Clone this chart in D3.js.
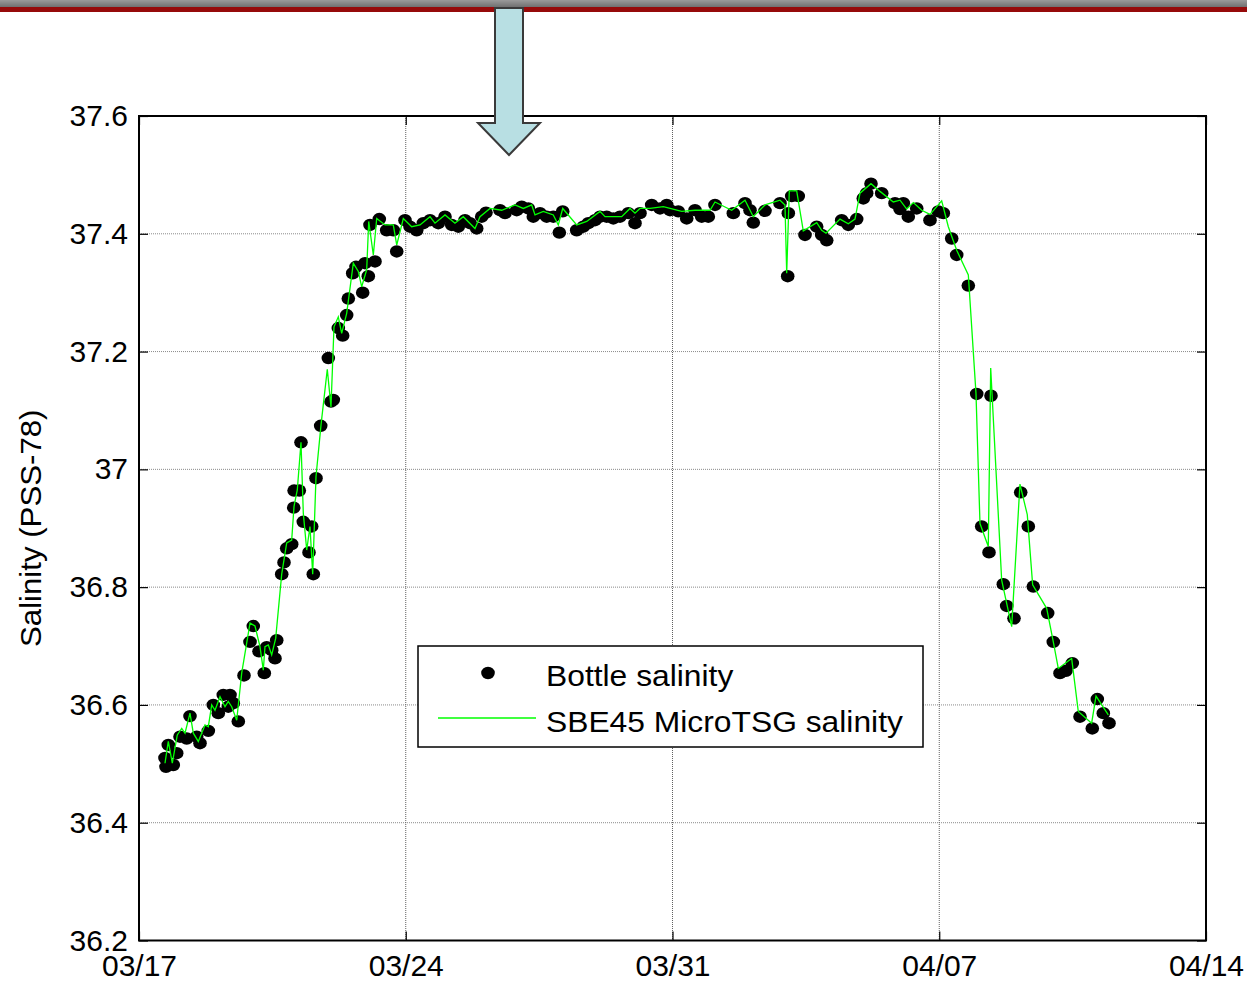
<!DOCTYPE html>
<html>
<head>
<meta charset="utf-8">
<script src="https://cdn.jsdelivr.net/npm/d3@7"></script>
<style>
  html, body { margin: 0; padding: 0; background: #fff; }
  svg { display: block; }
  text { font-family: Arial, "Liberation Sans", sans-serif; fill: #000; }
</style>
</head>
<body>
<svg id="chart" width="1247" height="982"></svg>
<script>
// ---------------- DATA ----------------
// Days since 2013-03-17 00:00 UTC for each bottle sample
const bottleDay = [
  0.682,0.709,0.769,0.900,0.989,1.076,1.252,1.338,1.514,1.601,1.819,1.950,2.081,2.212,2.343,2.388,2.475,2.606,2.755,2.913,
  2.999,3.149,3.288,3.351,3.482,3.569,3.614,3.745,3.805,3.876,4.007,4.060,4.070,4.207,4.251,4.312,4.461,4.532,4.574,4.645,
  4.768,4.968,5.038,5.099,5.230,5.345,5.450,5.493,5.608,5.695,5.870,5.931,6.017,6.062,6.193,6.306,6.500,6.673,6.763,6.980,
  7.112,7.287,7.461,7.636,7.854,8.030,8.206,8.379,8.555,8.686,8.862,8.993,9.106,9.473,9.605,9.912,10.043,10.216,10.347,10.523,
  10.699,10.872,11.030,11.119,11.486,11.659,11.791,11.966,12.097,12.273,12.447,12.622,12.840,13.016,13.147,13.454,13.672,13.848,13.935,14.152,
  14.373,14.591,14.766,14.940,15.115,15.596,15.903,16.034,16.120,16.427,16.821,17.023,17.039,17.128,17.301,17.477,17.784,17.915,18.047,18.440,
  18.613,18.834,19.007,19.096,19.209,19.490,19.839,19.970,20.057,20.188,20.409,20.757,20.976,21.107,21.327,21.458,21.763,21.983,22.114,22.306,
  22.358,22.681,22.770,22.962,23.138,23.337,23.468,23.846,23.993,24.169,24.326,24.492,24.694,25.016,25.148,25.305,25.455
];
// Bottle salinity (PSS-78)
const bottleSal = [
  36.510,36.495,36.532,36.498,36.518,36.546,36.543,36.581,36.546,36.535,36.556,36.600,36.586,36.617,36.597,36.617,36.603,36.572,36.650,36.707,
  36.734,36.691,36.654,36.698,36.693,36.679,36.710,36.822,36.842,36.866,36.873,36.935,36.964,36.964,37.046,36.911,36.859,36.903,36.822,36.985,
  37.074,37.189,37.115,37.118,37.240,37.227,37.262,37.290,37.333,37.344,37.300,37.350,37.328,37.415,37.353,37.425,37.406,37.406,37.370,37.423,
  37.412,37.406,37.418,37.423,37.418,37.429,37.415,37.412,37.423,37.418,37.409,37.429,37.436,37.440,37.435,37.440,37.446,37.443,37.429,37.435,
  37.429,37.429,37.402,37.438,37.406,37.412,37.418,37.423,37.429,37.429,37.426,37.429,37.435,37.418,37.435,37.449,37.443,37.449,37.440,37.438,
  37.426,37.440,37.429,37.429,37.449,37.435,37.452,37.440,37.419,37.439,37.452,37.328,37.435,37.464,37.464,37.398,37.412,37.398,37.389,37.423,
  37.415,37.425,37.460,37.469,37.485,37.469,37.452,37.442,37.452,37.429,37.443,37.423,37.438,37.435,37.392,37.364,37.312,37.128,36.903,36.859,
  37.125,36.805,36.768,36.747,36.961,36.903,36.801,36.756,36.707,36.654,36.658,36.671,36.580,36.560,36.610,36.586,36.569
];
// Days since 2013-03-17 for the SBE45 MicroTSG trace vertices
const tsgDay = [
  0.682,0.769,0.874,1.005,1.121,1.207,1.338,1.425,1.556,1.732,1.819,1.908,1.994,2.126,2.257,2.343,2.433,2.564,2.695,2.913,
  3.044,3.175,3.262,3.306,3.393,3.482,3.587,3.745,3.876,4.007,4.068,4.154,4.251,4.312,4.401,4.487,4.558,4.645,4.776,4.941,
  5.038,5.117,5.230,5.319,5.450,5.624,5.755,5.844,5.975,6.028,6.149,6.238,6.456,6.673,6.763,6.936,7.156,7.374,7.636,7.767,
  8.030,8.292,8.510,8.817,8.948,9.211,9.518,9.867,10.085,10.305,10.392,10.610,10.872,11.003,11.119,11.486,11.749,12.097,12.229,12.667,
  12.885,13.016,13.147,13.410,13.759,14.242,14.591,14.985,15.115,15.553,15.903,16.120,16.427,16.821,16.952,16.997,17.065,17.259,17.432,17.784,
  17.915,18.028,18.395,18.613,18.789,18.920,19.209,19.445,19.794,19.970,20.146,20.320,20.540,20.757,21.064,21.238,21.458,21.763,21.964,22.069,
  22.287,22.350,22.638,22.901,23.118,23.310,23.451,23.819,23.993,24.124,24.475,24.648,24.999,25.114,25.436
];
// SBE45 MicroTSG salinity (PSS-78)
const tsgSal = [
  36.501,36.538,36.501,36.549,36.560,36.552,36.586,36.552,36.538,36.566,36.563,36.600,36.591,36.614,36.597,36.606,36.597,36.574,36.654,36.739,
  36.734,36.699,36.659,36.699,36.702,36.685,36.713,36.822,36.875,36.880,36.937,36.965,37.046,36.925,36.863,36.903,36.822,36.988,37.075,37.170,
  37.106,37.242,37.259,37.231,37.265,37.350,37.336,37.310,37.339,37.421,37.364,37.426,37.415,37.415,37.381,37.426,37.412,37.415,37.429,37.418,
  37.432,37.418,37.429,37.409,37.429,37.443,37.440,37.449,37.443,37.449,37.432,37.438,37.432,37.415,37.443,37.415,37.421,37.438,37.429,37.429,
  37.443,37.435,37.443,37.443,37.446,37.438,37.440,37.440,37.454,37.440,37.457,37.429,37.449,37.457,37.449,37.333,37.473,37.473,37.405,37.419,
  37.406,37.401,37.425,37.417,37.425,37.469,37.485,37.472,37.454,37.457,37.442,37.453,37.440,37.433,37.456,37.412,37.372,37.330,37.129,36.908,
  36.869,37.172,36.812,36.733,36.975,36.923,36.804,36.764,36.707,36.662,36.679,36.589,36.569,36.615,36.583
];
const xTickLabels = ["03/17", "03/24", "03/31", "04/07", "04/14"];
const yTicks = [36.2, 36.4, 36.6, 36.8, 37.0, 37.2, 37.4, 37.6];
const yLabel = "Salinity (PSS-78)";
const legendLabels = ["Bottle salinity", "SBE45 MicroTSG salinity"];
const YEAR = 2013;

// ---------------- HELPERS ----------------
const t0 = Date.UTC(YEAR, 2, 17);
const dayToDate = d => new Date(t0 + d * 864e5);
const parseTick = s => { const [m, d] = s.split("/").map(Number); return new Date(Date.UTC(YEAR, m - 1, d)); };
const xTickDates = xTickLabels.map(parseTick);

const svg = d3.select("#chart");
const W = 1247, H = 982;
const L = 139, R = 1206, T = 116, B = 940.5;

const x = d3.scaleUtc().domain([xTickDates[0], xTickDates[xTickDates.length - 1]]).range([L, R]);
const y = d3.scaleLinear().domain([36.2, 37.6]).range([B, T]);

svg.append("rect").attr("width", W).attr("height", H).attr("fill", "#fff");

// Header bar
const defs = svg.append("defs");
const g1 = defs.append("linearGradient").attr("id", "hdr").attr("x1", 0).attr("x2", 0).attr("y1", 0).attr("y2", 1);
g1.append("stop").attr("offset", "0%").attr("stop-color", "#9a9a9a");
g1.append("stop").attr("offset", "100%").attr("stop-color", "#707070");
svg.append("rect").attr("x", 0).attr("y", 0).attr("width", W).attr("height", 7).attr("fill", "url(#hdr)");
svg.append("rect").attr("x", 0).attr("y", 7).attr("width", W).attr("height", 5).attr("fill", "#960a0a");

// Grid lines
const grid = svg.append("g");
grid.selectAll("line.h").data(yTicks.slice(1, -1)).enter().append("line")
  .attr("x1", L).attr("x2", R).attr("y1", d => y(d)).attr("y2", d => y(d))
  .attr("stroke", "#8a8a8a").attr("stroke-width", 1).attr("stroke-dasharray", "1,1");
grid.selectAll("line.v").data(xTickDates.slice(1, -1)).enter().append("line")
  .attr("x1", d => x(d)).attr("x2", d => x(d)).attr("y1", T).attr("y2", B)
  .attr("stroke", "#606060").attr("stroke-width", 1).attr("stroke-dasharray", "1,1");

// Axes (MATLAB box style, ticks inside on all sides)
const fmtY = d => String(+d.toFixed(1));
const fmtX = d3.utcFormat("%m/%d");
const tickLen = 9;
const axL = d3.axisLeft(y).tickValues(yTicks).tickSize(-tickLen).tickPadding(11).tickFormat(fmtY);
const axR = d3.axisRight(y).tickValues(yTicks).tickSize(-tickLen).tickFormat("");
const axB = d3.axisBottom(x).tickValues(xTickDates).tickSize(-tickLen).tickPadding(10).tickFormat(fmtX);
const axT = d3.axisTop(x).tickValues(xTickDates).tickSize(-tickLen).tickFormat("");

function styleAxis(g) {
  g.select(".domain").remove();
  g.selectAll(".tick line").attr("stroke", "#000").attr("stroke-width", 1.2);
  g.selectAll(".tick text").style("font-size", "30px").attr("fill", "#000");
}
svg.append("g").attr("transform", `translate(${L},0)`).call(axL).call(styleAxis);
svg.append("g").attr("transform", `translate(${R},0)`).call(axR).call(styleAxis);
const gB = svg.append("g").attr("transform", `translate(0,${B})`).call(axB).call(styleAxis);
gB.selectAll(".tick text").attr("dy", null).attr("y", 35.5);
svg.append("g").attr("transform", `translate(0,${T})`).call(axT).call(styleAxis);

svg.append("rect").attr("x", L).attr("y", T).attr("width", R - L).attr("height", B - T)
  .attr("fill", "none").attr("stroke", "#000").attr("stroke-width", 2);

// Y label
svg.append("text").attr("transform", `translate(41,${(T + B) / 2}) rotate(-90) scale(1.04,1)`)
  .attr("text-anchor", "middle").style("font-size", "30px").text(yLabel);

// Data marks
const bottle = bottleDay.map((d, i) => ({ t: dayToDate(d), s: bottleSal[i] }));
const tsg = tsgDay.map((d, i) => ({ t: dayToDate(d), s: tsgSal[i] }));

svg.append("g").selectAll("ellipse").data(bottle).enter().append("ellipse")
  .attr("cx", d => x(d.t)).attr("cy", d => y(d.s)).attr("rx", 6.8).attr("ry", 6.2).attr("fill", "#000");

const line = d3.line().x(d => x(d.t)).y(d => y(d.s));
svg.append("path").datum(tsg).attr("d", line).attr("fill", "none")
  .attr("stroke", "#00ff00").attr("stroke-width", 1.3).attr("stroke-linejoin", "miter");

// Legend
const lg = svg.append("g");
lg.append("rect").attr("x", 418).attr("y", 646).attr("width", 505).attr("height", 101)
  .attr("fill", "#fff").attr("stroke", "#000").attr("stroke-width", 1.5);
lg.append("ellipse").attr("cx", 488).attr("cy", 673).attr("rx", 6.8).attr("ry", 6.2).attr("fill", "#000");
lg.append("line").attr("x1", 438).attr("x2", 536).attr("y1", 718).attr("y2", 718)
  .attr("stroke", "#00ff00").attr("stroke-width", 1.3);
lg.append("text").attr("transform", "translate(546,686) scale(1.06,1)").style("font-size", "30px").text(legendLabels[0]);
lg.append("text").attr("transform", "translate(546,732) scale(1.06,1)").style("font-size", "30px").text(legendLabels[1]);

// Arrow
const arrowPts = [[495, 8], [523, 8], [523, 123], [540, 123], [509, 155], [478, 123], [495, 123]];
svg.append("polygon").attr("points", arrowPts.map(p => p.join(",")).join(" "))
  .attr("fill", "#b8dfe3").attr("stroke", "#3a3a3a").attr("stroke-width", 2).attr("stroke-linejoin", "miter");
</script>
</body>
</html>
